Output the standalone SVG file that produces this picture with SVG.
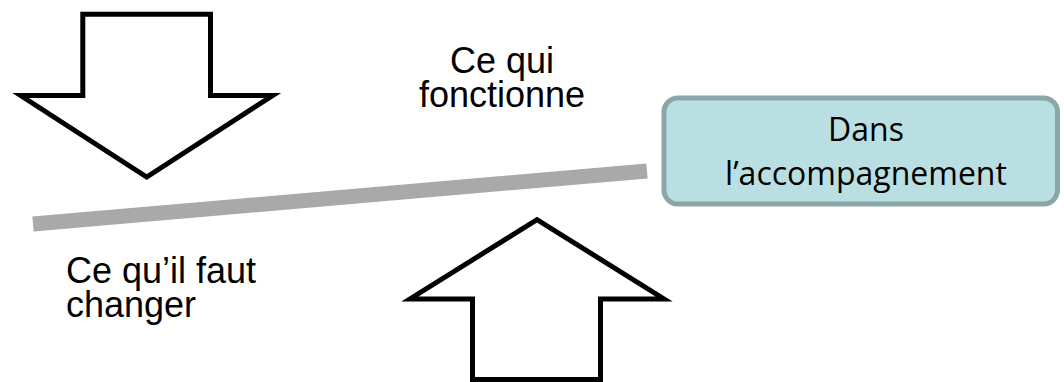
<svg xmlns="http://www.w3.org/2000/svg" width="1064" height="382" viewBox="0 0 1064 382">
<style>
.arrow{fill:#FFFFFF;stroke:#000000;stroke-width:5;stroke-linejoin:miter;stroke-miterlimit:10}
.lbl{font-family:"Liberation Sans",Arial,sans-serif;font-size:36px;fill:#000000}
.box{fill:#B9DFE2;stroke:#8AA6A9;stroke-width:5}
.boxt{font-family:"Open Sans","Noto Sans",sans-serif;font-size:32px;fill:#000000;text-anchor:middle}
</style>
<rect width="1064" height="382" fill="#FFFFFF"/>
<g id="connectors">
<line x1="33" y1="224" x2="647" y2="171" stroke="#A9A9A9" stroke-width="15"/>
</g>
<g id="arrow-down">
<polygon class="arrow" points="82.8,14.3 210.5,14.3 210.5,95.5 272.7,95.5 146.7,177 20.7,95.5 82.8,95.5"/>
</g>
<g id="arrow-up">
<polygon class="arrow" points="472.5,379.5 472.5,299 410,299 537,219.6 664,299 600.5,299 600.5,379.5"/>
</g>
<g id="label-fonctionne">
<text class="lbl" x="502" y="73" text-anchor="middle">Ce qui</text>
<text class="lbl" x="502" y="107" text-anchor="middle">fonctionne</text>
</g>
<g id="label-changer">
<text class="lbl" x="66" y="283">Ce qu’il faut</text>
<text class="lbl" x="66" y="317">changer</text>
</g>
<g id="node-accompagnement">
<rect class="box" x="664" y="98" width="393.5" height="106" rx="14" ry="14"/>
<text class="boxt" x="866" y="141">Dans</text>
<text class="boxt" x="866" y="185">l’accompagnement</text>
</g>
</svg>
